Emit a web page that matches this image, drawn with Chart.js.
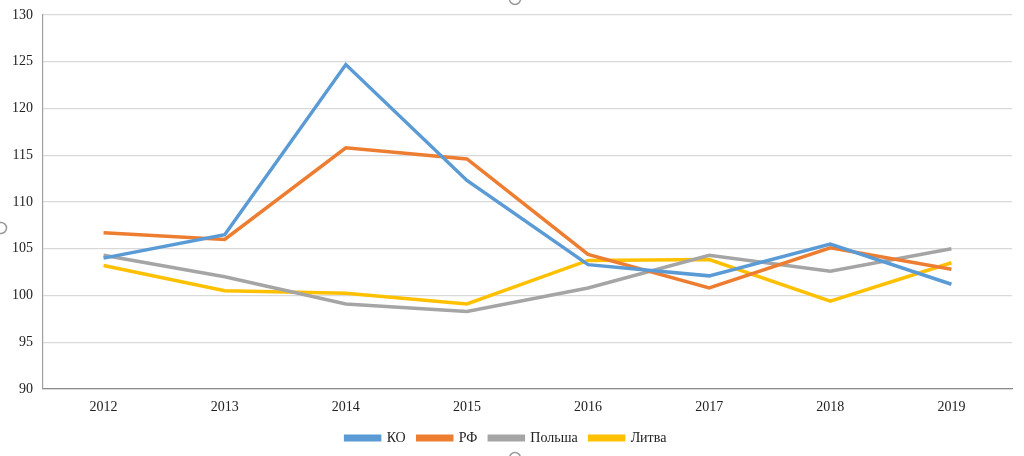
<!DOCTYPE html>
<html><head><meta charset="utf-8">
<script src="https://cdn.jsdelivr.net/npm/chart.js@4.4.1/dist/chart.umd.min.js"></script>
<style>html,body{margin:0;padding:0;background:#fff}#w{width:1024px;height:456px;position:relative}</style>
</head><body><div id="w"><canvas id="c"></canvas></div>
<script>
const years = ['2012','2013','2014','2015','2016','2017','2018','2019'];
const ko = [104.0, 106.5, 124.7, 112.3, 103.3, 102.1, 105.5, 101.2];
const rf = [106.7, 106.0, 115.8, 114.6, 104.4, 100.8, 105.1, 102.8];
const polsha = [104.3, 102.0, 99.1, 98.3, 100.8, 104.3, 102.6, 105.0];
const litva = [103.2, 100.5, 100.25, 99.1, 103.75, 103.85, 99.4, 103.5];
const seriesNames = ['КО','РФ','Польша','Литва'];
const colors = ['#5B9BD5','#ED7D31','#A5A5A5','#FFC000'];
const yMin = 90, yMax = 130, yStep = 5;

const handles = {
  id:'handles',
  afterDraw(chart){
    const ctx = chart.ctx;
    ctx.save();
    ctx.strokeStyle = '#9a9a9a';
    ctx.lineWidth = 1.5;
    ctx.fillStyle = '#fff';
    [[515,-1],[1,228],[515,458]].forEach(p=>{
      ctx.beginPath(); ctx.arc(p[0],p[1],5.5,0,Math.PI*2); ctx.fill(); ctx.stroke();
    });
    ctx.restore();
  }
};

const font = '"Liberation Serif", "Times New Roman", serif';
const data = [ko, rf, polsha, litva];
new Chart(document.getElementById('c'), {
  type:'line',
  data:{
    labels: years,
    datasets: data.map((d,i)=>({
      label: seriesNames[i], data: d, borderColor: colors[i], backgroundColor: colors[i],
      borderWidth: 3.5, pointRadius: 0, tension: 0, fill:false
    }))
  },
  options:{
    responsive:true, maintainAspectRatio:false, animation:false,
    layout:{padding:{left:0,right:12,top:15,bottom:1}},
    plugins:{
      tooltip:{enabled:false},
      legend:{position:'bottom', labels:{boxWidth:34, boxHeight:3.5, padding:12, color:'#222',
        font:{family:font, size:14}}}
    },
    scales:{
      x:{
        offset:true,
        grid:{display:false, drawTicks:false},
        border:{display:true, color:'#8c8c8c', width:1.2},
        ticks:{color:'#222', padding:10, font:{family:font, size:14}},
        afterFit(s){ s.height = 30; s.paddingLeft = 0; s.paddingRight = 0; }
      },
      y:{
        min:yMin, max:yMax,
        ticks:{stepSize:yStep, color:'#222', padding:10, font:{family:font, size:14}},
        grid:{color:'#d9d9d9', lineWidth:1.2, drawTicks:false},
        border:{display:true, color:'#a0a0a0', width:1.2},
        afterFit(s){ s.width = 43; s.paddingTop = 0; s.paddingBottom = 0; }
      }
    }
  },
  plugins:[handles]
});
</script></body></html>
